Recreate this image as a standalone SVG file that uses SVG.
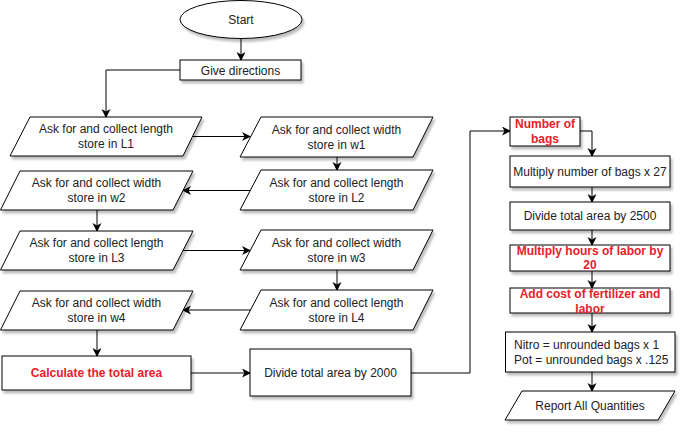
<svg xmlns="http://www.w3.org/2000/svg" width="687" height="432" viewBox="0 0 687 432">
<defs>
<filter id="sh" x="-10%" y="-10%" width="130%" height="140%">
<feDropShadow dx="2" dy="3" stdDeviation="1.2" flood-color="#000" flood-opacity="0.25"/>
</filter>
<marker id="arr" markerUnits="userSpaceOnUse" markerWidth="10" markerHeight="10" refX="8" refY="4.5" orient="auto">
<path d="M0,0 L9,4.5 L0,9 L2.5,4.5 Z" fill="#000"/>
</marker>
</defs>
<style>
.s{fill:#fff;stroke:#000;stroke-width:1;filter:url(#sh)}
.t{font-family:"Liberation Sans",Arial,sans-serif;font-size:12px;fill:#222;text-anchor:middle}
.r{font-family:"Liberation Sans",Arial,sans-serif;font-size:12px;fill:#E8202A;font-weight:bold;text-anchor:middle}
.c{fill:none;stroke:#000;stroke-width:1;marker-end:url(#arr)}
</style>
<rect width="687" height="432" fill="#fff"/>
<g id="connectors">
<path class="c" d="M241,39 L241,60"/>
<path class="c" d="M180,70 L106,70 L106,117"/>
<path class="c" d="M192,136.5 L250,136.5"/>
<path class="c" d="M337,157 L337,170"/>
<path class="c" d="M251,190.5 L183,190.5"/>
<path class="c" d="M97,210 L97,231"/>
<path class="c" d="M183,250.5 L250,250.5"/>
<path class="c" d="M337,270 L337,290"/>
<path class="c" d="M251,310 L183,310"/>
<path class="c" d="M97,330 L97,356"/>
<path class="c" d="M191,373 L250,373"/>
<path class="c" d="M411,373 L470,373 L470,131 L510,131"/>
<path class="c" d="M580,131 L592,131 L592,156"/>
<path class="c" d="M592,187 L592,202"/>
<path class="c" d="M592,230 L592,245"/>
<path class="c" d="M592,271 L592,288"/>
<path class="c" d="M592,313 L592,332"/>
<path class="c" d="M592,372 L592,391"/>
</g>
<g id="start"><ellipse class="s" cx="241" cy="19.5" rx="61" ry="19"/><text class="t" x="241" y="24">Start</text></g>
<g id="give"><rect class="s" x="180" y="60" width="121" height="20"/><text class="t" x="240.5" y="74.5">Give directions</text></g>
<g id="l1"><polygon class="s" points="30,117 202,117 183,156 10,156"/><text class="t" x="106" y="133.3">Ask for and collect length</text><text class="t" x="106" y="148.3">store in L1</text></g>
<g id="w1"><polygon class="s" points="261,117 433,117 413,157 240,157"/><text class="t" x="336.5" y="133.8">Ask for and collect width</text><text class="t" x="336.5" y="148.8">store in w1</text></g>
<g id="w2"><polygon class="s" points="20,171 193,171 173,210 0.5,210"/><text class="t" x="96.5" y="187.3">Ask for and collect width</text><text class="t" x="96.5" y="202.3">store in w2</text></g>
<g id="l2"><polygon class="s" points="261,170 433,170 413,210 240,210"/><text class="t" x="336.5" y="186.8">Ask for and collect length</text><text class="t" x="336.5" y="201.8">store in L2</text></g>
<g id="l3"><polygon class="s" points="20,231 193,231 173,270 0.5,270"/><text class="t" x="96.5" y="247.3">Ask for and collect length</text><text class="t" x="96.5" y="262.3">store in L3</text></g>
<g id="w3"><polygon class="s" points="261,230 433,230 413,270 240,270"/><text class="t" x="336.5" y="246.8">Ask for and collect width</text><text class="t" x="336.5" y="261.8">store in w3</text></g>
<g id="w4"><polygon class="s" points="20,291 193,291 173,330 0.5,330"/><text class="t" x="96.5" y="307.3">Ask for and collect width</text><text class="t" x="96.5" y="322.3">store in w4</text></g>
<g id="l4"><polygon class="s" points="261,290 433,290 413,330 240,330"/><text class="t" x="336.5" y="306.8">Ask for and collect length</text><text class="t" x="336.5" y="321.8">store in L4</text></g>
<g id="calc"><rect class="s" x="2" y="356" width="189" height="34"/><text class="r" x="96.5" y="377.3">Calculate the total area</text></g>
<g id="div2000"><rect class="s" x="250" y="349" width="161" height="47"/><text class="t" x="330.5" y="377.3">Divide total area by 2000</text></g>
<g id="bags"><rect class="s" x="510" y="117" width="70" height="29"/><text class="r" x="545" y="128.3">Number of</text><text class="r" x="545" y="143.3">bags</text></g>
<g id="mult27"><rect class="s" x="510" y="156" width="160" height="31"/><text class="t" x="590" y="176">Multiply number of bags x 27</text></g>
<g id="div2500"><rect class="s" x="510" y="202" width="160" height="28"/><text class="t" x="590" y="219.5">Divide total area by 2500</text></g>
<g id="labor"><rect class="s" x="510" y="245" width="160" height="26"/><text class="r" x="590" y="255">Multiply hours of labor by</text><text class="r" x="590" y="269.3">20</text></g>
<g id="addcost"><rect class="s" x="510" y="288" width="160" height="25"/><text class="r" x="590" y="297.6">Add cost of fertilizer and</text><text class="r" x="590" y="312.6">labor</text></g>
<g id="nitro"><rect class="s" x="505.5" y="332" width="169.5" height="40"/><text class="t" x="514" y="349.3" style="text-anchor:start">Nitro = unrounded bags x 1</text><text class="t" x="514" y="363.8" style="text-anchor:start">Pot = unrounded bags x .125</text></g>
<g id="report"><polygon class="s" points="522,391 675,391 658,420 505,420"/><text class="t" x="590" y="409.5">Report All Quantities</text></g>
</svg>
